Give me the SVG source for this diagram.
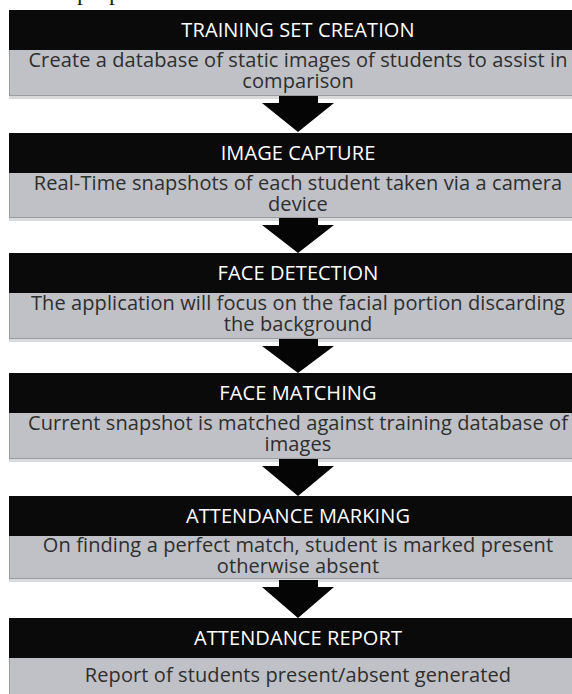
<svg xmlns="http://www.w3.org/2000/svg" width="572" height="694" viewBox="0 0 572 694">
  <defs>
    <style>
      .hdr { fill: #0a0a0a; }
      .body { fill: #bfc1c6; stroke: #9a9ca0; stroke-width: 1; }
      .shadow { fill: #d9dadc; }
      .ht { font-family: "Open Sans", "Liberation Sans", sans-serif; font-size: 20px; letter-spacing: 0.1px; fill: #ffffff; text-anchor: middle; }
      .bt { font-family: "Open Sans", "Liberation Sans", sans-serif; font-size: 20px; letter-spacing: 0.1px; fill: #2e2e2e; text-anchor: middle; }
      .arrow { fill: #050505; }
      .top { font-family: "Liberation Serif", serif; font-size: 24px; fill: #222; }
    </style>
  </defs>
  <rect width="572" height="694" fill="#ffffff"/>
  <text class="top" x="77" y="0">proposed wo</text>

  <g id="n1">
    <rect class="shadow" x="9" y="96" width="580" height="3"/>
    <rect class="body" x="9.5" y="49.5" width="580" height="46"/>
    <rect class="hdr" x="9" y="10" width="580" height="40"/>
    <text class="ht" x="298" y="37">TRAINING SET CREATION</text>
    <text class="bt" x="298" y="67">Create a database of static images of students to assist in</text>
    <text class="bt" x="298" y="88">comparison</text>
  </g>

  <g id="n2">
    <rect class="shadow" x="9" y="218" width="580" height="3"/>
    <rect class="body" x="9.5" y="172.5" width="580" height="45"/>
    <rect class="hdr" x="9" y="133" width="580" height="40"/>
    <text class="ht" x="298" y="160">IMAGE CAPTURE</text>
    <text class="bt" x="298" y="190">Real-Time snapshots of each student taken via a camera</text>
    <text class="bt" x="298" y="211">device</text>
  </g>

  <g id="n3">
    <rect class="shadow" x="9" y="339" width="580" height="3"/>
    <rect class="body" x="9.5" y="292.5" width="580" height="46"/>
    <rect class="hdr" x="9" y="253" width="580" height="40"/>
    <text class="ht" x="298" y="280">FACE DETECTION</text>
    <text class="bt" x="298" y="310">The application will focus on the facial portion discarding</text>
    <text class="bt" x="298" y="331">the background</text>
  </g>

  <g id="n4">
    <rect class="shadow" x="9" y="459" width="580" height="3"/>
    <rect class="body" x="9.5" y="412.5" width="580" height="46"/>
    <rect class="hdr" x="9" y="373" width="580" height="40"/>
    <text class="ht" x="298" y="400">FACE MATCHING</text>
    <text class="bt" x="298" y="430">Current snapshot is matched against training database of</text>
    <text class="bt" x="298" y="451">images</text>
  </g>

  <g id="n5">
    <rect class="shadow" x="9" y="579" width="580" height="3"/>
    <rect class="body" x="9.5" y="535.5" width="580" height="43"/>
    <rect class="hdr" x="9" y="496" width="580" height="40"/>
    <text class="ht" x="298" y="523">ATTENDANCE MARKING</text>
    <text class="bt" x="298" y="552">On finding a perfect match, student is marked present</text>
    <text class="bt" x="298" y="573">otherwise absent</text>
  </g>

  <g id="n6">
    <rect class="body" x="9.5" y="657.5" width="580" height="40"/>
    <rect class="hdr" x="9" y="618" width="580" height="40"/>
    <text class="ht" x="298" y="645">ATTENDANCE REPORT</text>
    <text class="bt" x="298" y="682">Report of students present/absent generated</text>
  </g>

  <g id="connectors">
    <path class="arrow" d="M279,96 H318 V103 H334 L298,132 L262,103 H279 Z"/>
    <path class="arrow" d="M279,218 H318 V225 H334 L298,253 L262,225 H279 Z"/>
    <path class="arrow" d="M279,339 H318 V346 H334 L298,373 L262,346 H279 Z"/>
    <path class="arrow" d="M279,459 H318 V466 H334 L298,496 L262,466 H279 Z"/>
    <path class="arrow" d="M279,580 H318 V587 H334 L298,618 L262,587 H279 Z"/>
  </g>
</svg>
